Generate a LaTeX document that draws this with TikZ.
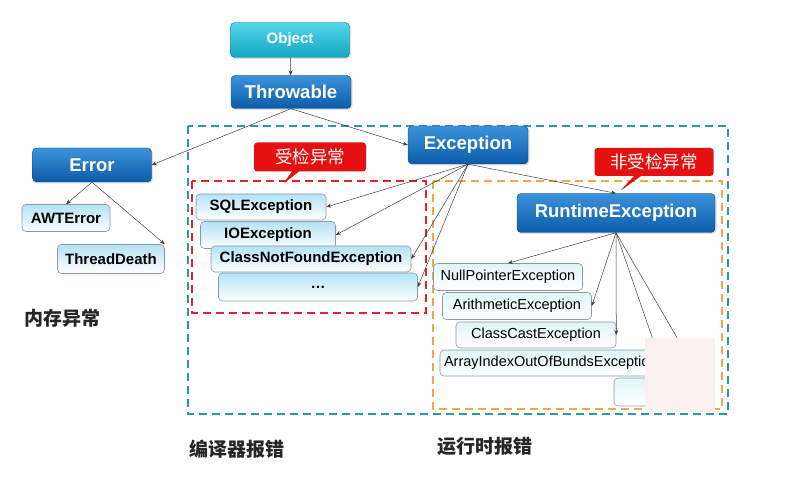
\documentclass[tikz,border=0pt]{standalone}
\usepackage{fontspec}
\setmainfont{Liberation Sans}
\newfontfamily\cjk{Noto Sans CJK SC}
\usetikzlibrary{arrows.meta, shapes.callouts, shadows}
\definecolor{tealdash}{HTML}{2A9A9E}
\definecolor{reddash}{HTML}{E82028}
\definecolor{orangedash}{HTML}{F2A647}
\definecolor{bluetop}{HTML}{3C93DA}
\definecolor{bluebot}{HTML}{0C5BAA}
\definecolor{cyantop}{HTML}{55D6EA}
\definecolor{cyanbot}{HTML}{12A6C2}
\definecolor{paletop}{HTML}{B4E2F6}
\definecolor{palecyan}{HTML}{DFF5F8}
\definecolor{boxedge}{HTML}{8C9AA4}
\definecolor{calloutred}{HTML}{E5100F}
\definecolor{cover}{HTML}{FBF0F0}

\tikzset{
  bluebox/.style={rounded corners=4pt, top color=bluetop, bottom color=bluebot,
    draw=bluebot!80!black, line width=0.4pt, text=white,
    font=\bfseries\fontsize{18.5}{20}\selectfont,
    drop shadow={opacity=0.25, shadow xshift=1.5pt, shadow yshift=-1.5pt}},
  checkbox/.style={rounded corners=4pt, top color=paletop, bottom color=white,
    draw=boxedge, line width=0.6pt, font=\bfseries\fontsize{15}{17}\selectfont},
  runbox/.style={rounded corners=4pt, top color=palecyan, bottom color=white,
    draw=boxedge, line width=0.6pt, font=\fontsize{14.5}{16}\selectfont},
  tag/.style={rectangle callout, rounded corners=3pt, fill=calloutred,
    text=white, font=\cjk\fontsize{17.5}{19}\selectfont, inner sep=0pt},
  zone/.style={dash pattern=on 8pt off 5pt, line width=2pt},
  link/.style={draw=black!75, line width=0.5pt, -{Stealth[length=5pt, width=4pt]}},
  note/.style={font=\cjk\bfseries\fontsize{19}{21}\selectfont, text=black!85}
}

\begin{document}
\begin{tikzpicture}[x=1pt, y=-1pt]

\useasboundingbox (0,0) rectangle (800,502);

% --- Dashed zones ---
\draw[zone, tealdash] (188,126) rectangle (728,414);
\draw[zone, reddash] (192,181) rectangle (426,313);
\draw[zone, orangedash] (433,181) rectangle (722,409);

% --- Top of the hierarchy ---
\node[bluebox, top color=cyantop, bottom color=cyanbot, draw=cyanbot!80!black,
  minimum width=119pt, minimum height=35pt, font=\bfseries\fontsize{15}{17}\selectfont]
  (object) at (290,40) {Object};
\node[bluebox, minimum width=120pt, minimum height=33pt] (throwable) at (291,92) {Throwable};

% --- Error branch ---
\node[bluebox, minimum width=119pt, minimum height=34pt] (error) at (92,165) {Error};
\node[checkbox, minimum width=88pt, minimum height=27pt] (awt) at (66,218) {AWTError};
\node[checkbox, minimum width=107pt, minimum height=29pt] (thread) at (111,259) {ThreadDeath};
\node[note, anchor=west] (memory) at (21,318) {内存异常};

% --- Exception branch ---
\node[bluebox, minimum width=120pt, minimum height=38pt] (exception) at (468,145) {Exception};

% checked exceptions
\node[checkbox, minimum width=130pt, minimum height=26pt] (sql) at (261,207) {SQLException};
\node[checkbox, minimum width=135pt, minimum height=27pt] (io) at (268,235) {IOException};
\node[checkbox, minimum width=200pt, minimum height=26pt] (cnf) at (311,259) {ClassNotFoundException};
\node[checkbox, minimum width=199pt, minimum height=28pt] (dots) at (318,287) {\ldots};

\node[tag, minimum width=112pt, minimum height=29pt,
  callout absolute pointer={(283,184)}] (checked) at (310,157) {受检异常};

% unchecked exceptions
\node[bluebox, minimum width=198pt, minimum height=39pt] (runtime) at (616,213) {RuntimeException};
\node[runbox, minimum width=149pt, minimum height=27pt] (npe) at (508,277) {NullPointerException};
\node[runbox, minimum width=149pt, minimum height=27pt] (arith) at (517,306) {ArithmeticException};
\node[runbox, minimum width=160pt, minimum height=26pt] (cce) at (536,335) {ClassCastException};
\node[runbox, minimum width=240pt, minimum height=26pt, text width=232pt, align=left]
  (aioobe) at (560,363) {ArrayIndexOutOfBundsException};
\node[runbox, minimum width=60pt, minimum height=28pt] (more) at (644,392) {};

\node[tag, minimum width=119pt, minimum height=28pt,
  callout absolute pointer={(620,191)}] (unchecked) at (654,162) {非受检异常};

% --- Connectors ---
\draw[link] (object) -- (throwable);
\draw[link] (throwable.south) -- (error.east);
\draw[link] (throwable.south) -- (exception.west);
\draw[link] (error.south) -- (awt.north);
\draw[link] (error.south) -- (thread.north east);

\draw[link] (exception.south) -- (sql.east);
\draw[link] (exception.south) -- (io.east);
\draw[link] (exception.south) -- (cnf.east);
\draw[link] (exception.south) -- (dots.east);
\draw[link] (exception.south) -- (runtime.north);

\coordinate (hidden1) at (660,360);
\coordinate (hidden2) at (690,360);
\draw[link] (runtime.south) -- (npe.north);
\draw[link] (runtime.south) -- (arith.east);
\draw[link] (runtime.south) -- (cce.east);
\draw[draw=black!75, line width=0.5pt] (runtime.south) -- (hidden1);
\draw[draw=black!75, line width=0.5pt] (runtime.south) -- (hidden2);

% --- Blank patch over the lower right ---
\fill[cover] (645,338) rectangle (715,412);

% --- Bottom notes ---
\node[note, anchor=west] (compile) at (186,449) {编译器报错};
\node[note, anchor=west] (runerr) at (434,446) {运行时报错};

\end{tikzpicture}
\end{document}
